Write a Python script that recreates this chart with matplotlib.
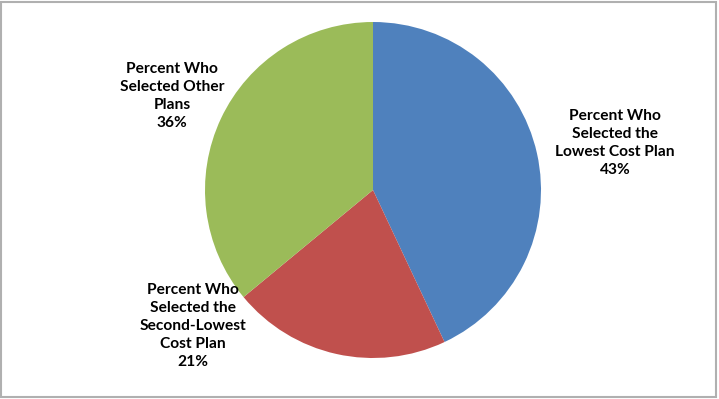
import matplotlib
matplotlib.use('Agg')
import matplotlib.pyplot as plt
from matplotlib.patches import Rectangle

# data
labels = ['Percent Who\nSelected the\nLowest Cost Plan',
          'Percent Who\nSelected the\nSecond-Lowest\nCost Plan',
          'Percent Who\nSelected Other\nPlans']
values = [43, 21, 36]
colors = ['#4F81BD', '#C0504D', '#9BBB59']

# label centres, in pie-radius units
label_x = [1.44, -1.07, -1.196]
label_y = [0.28, -0.81, 0.56]

fig = plt.figure(figsize=(7.19, 3.99), dpi=100)
ax = fig.add_axes([205/719, 41/399, 336/719, 336/399])

ax.pie(values, colors=colors, startangle=90, counterclock=False,
       radius=1, wedgeprops=dict(linewidth=0))
ax.set_xlim(-1, 1)
ax.set_ylim(-1, 1)
ax.set_aspect('equal')
ax.axis('off')

for lab, v, x, y in zip(labels, values, label_x, label_y):
    ax.text(x, y, lab + '\n%d%%' % v, ha='center', va='center',
            fontsize=11.2, fontweight='bold', family=['Lato', 'DejaVu Sans'],
            linespacing=1.36, clip_on=False)

# outer border
fig.patches.append(Rectangle((0.002, 0.006), 0.994, 0.99, transform=fig.transFigure,
                             fill=False, edgecolor='#B0B0B0', linewidth=1.5))

fig.savefig('out.png', dpi=100)
